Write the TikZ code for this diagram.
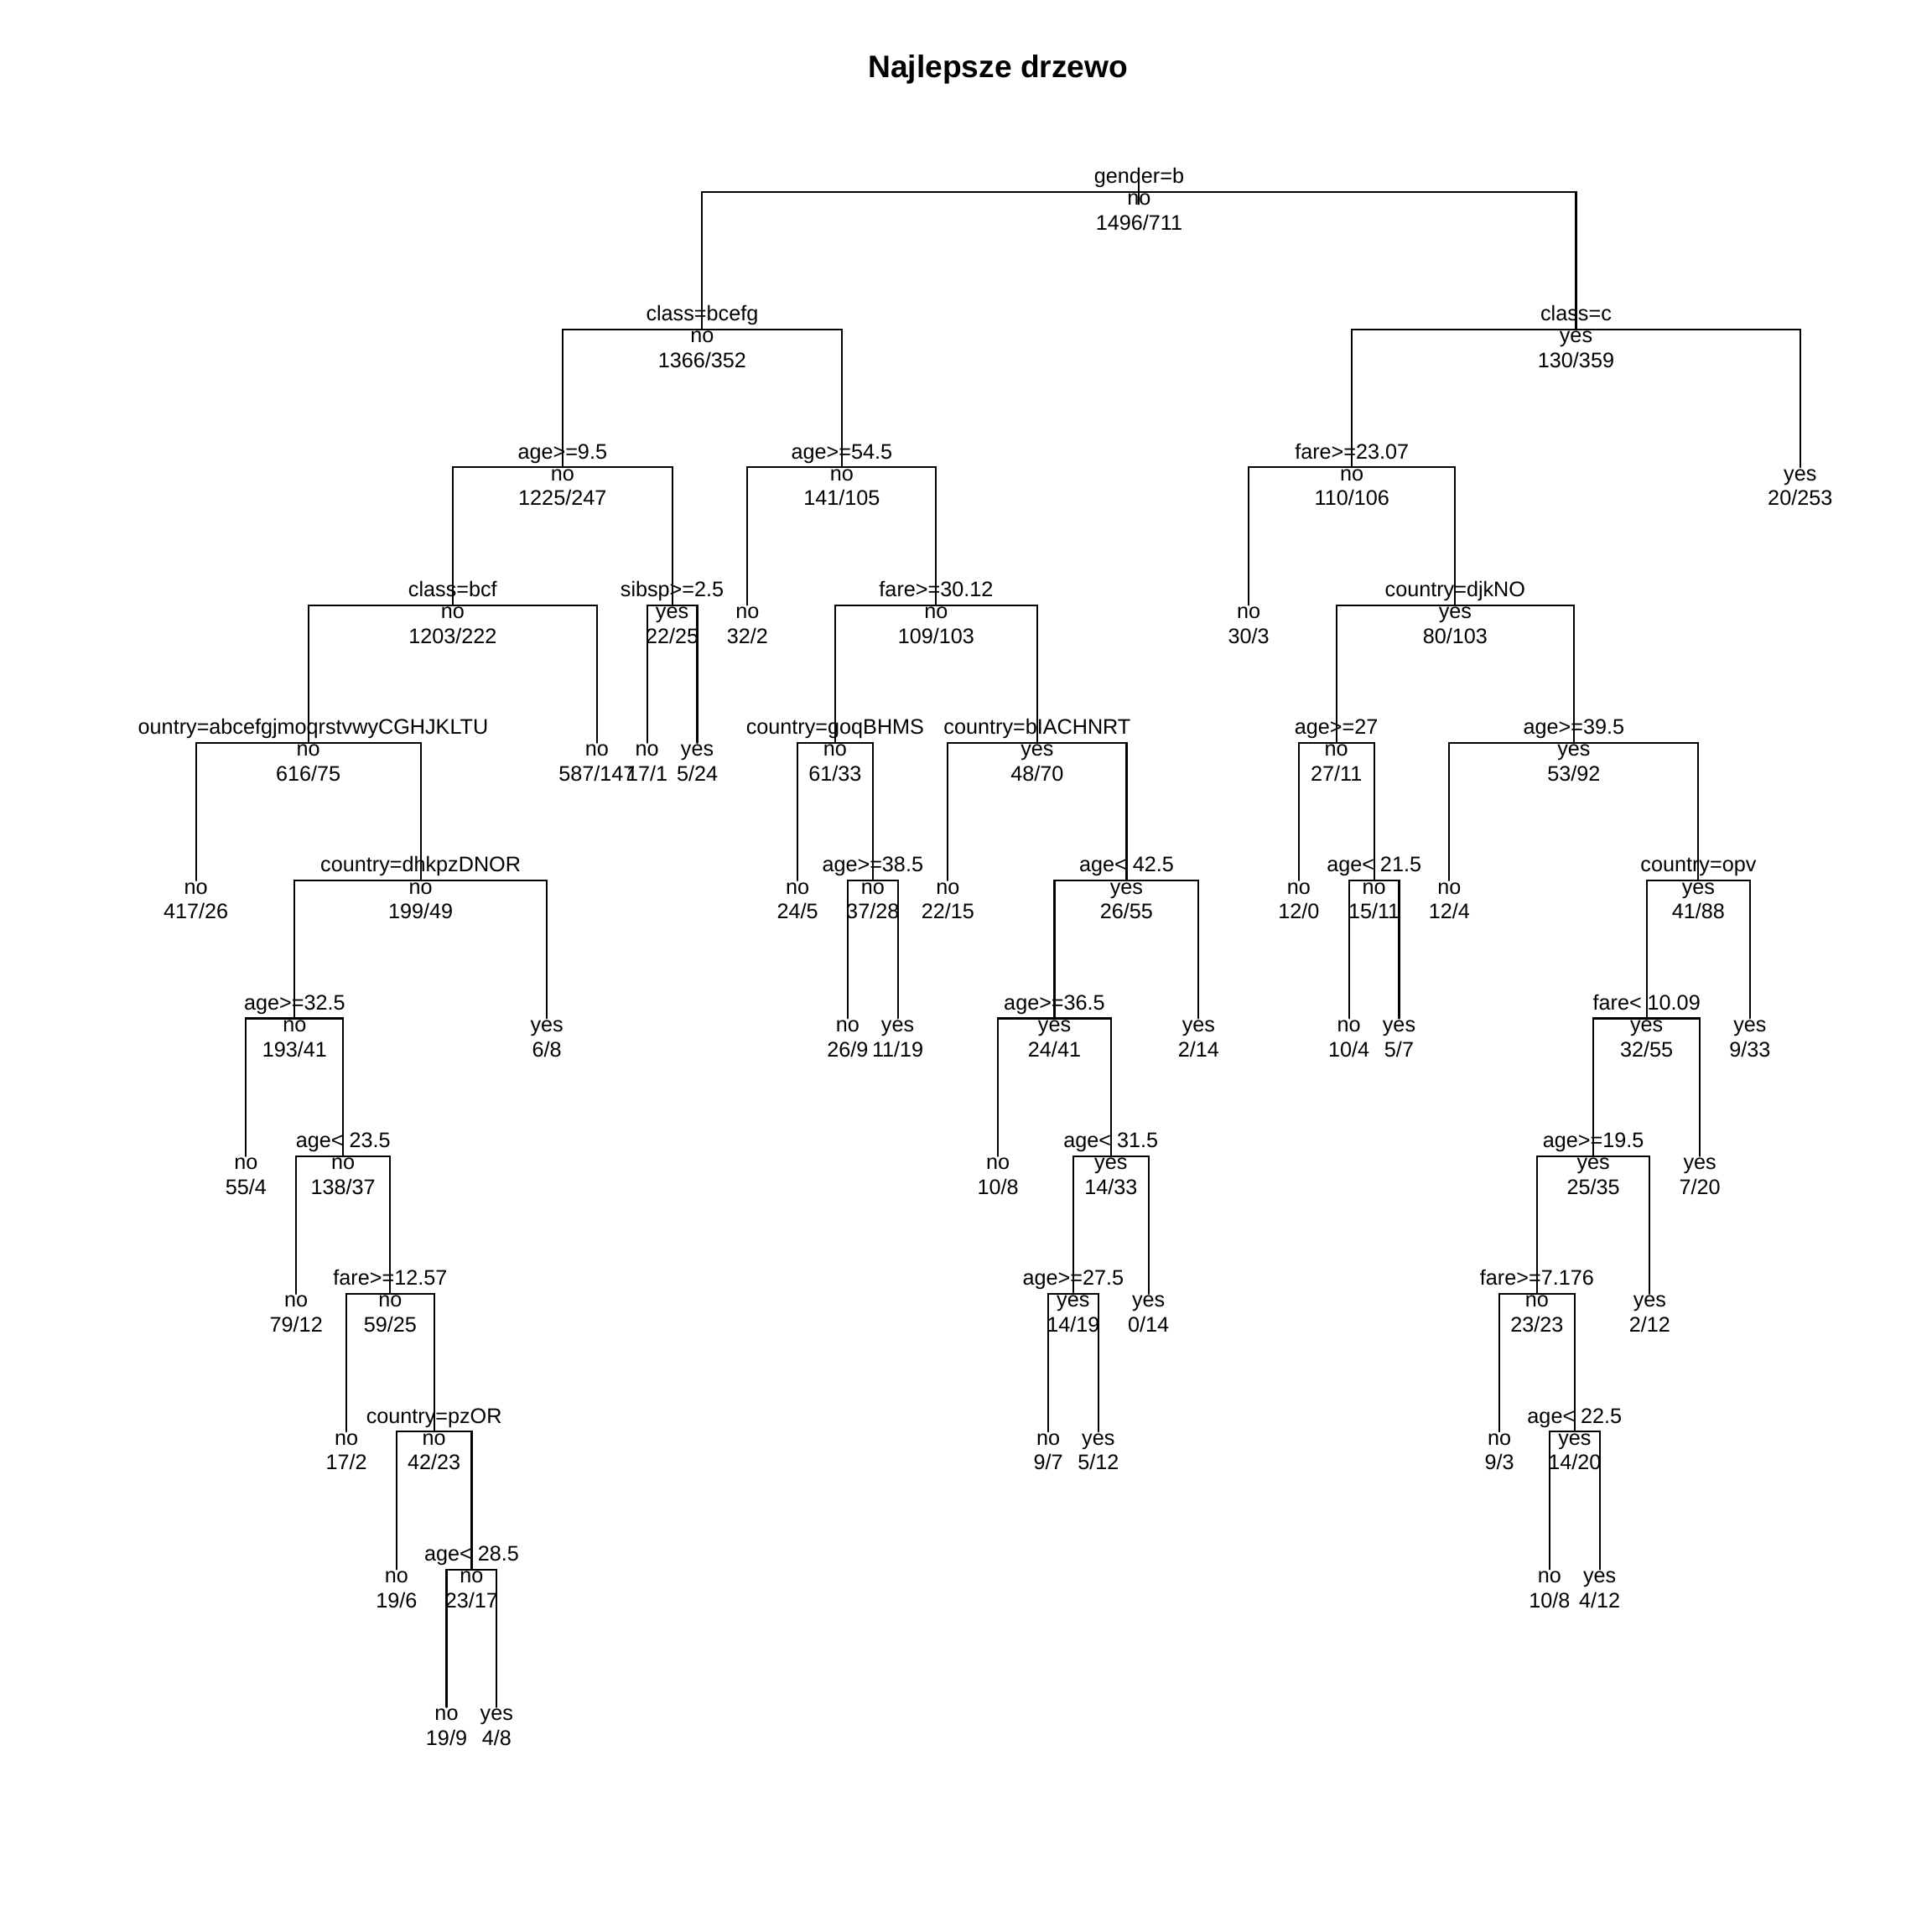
\documentclass[tikz,border=0pt]{standalone}
\usepackage{fontspec}
\setmainfont{Liberation Sans}
\usetikzlibrary{calc}

\begin{document}
\begin{tikzpicture}[x=0.1mm,y=-0.1mm,line width=0.4pt,line cap=round,
		every node/.style={anchor=base,inner sep=0pt,font=\fontsize{4.88}{6}\selectfont},
		titlelbl/.style={font=\fontsize{7.2}{8.6}\selectfont\bfseries}]
		\useasboundingbox (0,0) rectangle (1568,1568);
		
		\node[titlelbl] (title) at (810,63) {Najlepsze drzewo};
		
		% tree points, numbered like rpart
		\coordinate (n1) at (924.5,155.7);
		\coordinate (n2) at (569.9,267.5);
		\coordinate (n3) at (1279.1,267.5);
		\coordinate (n4) at (456.5,379.3);
		\coordinate (n5) at (683.2,379.3);
		\coordinate (n6) at (1097.2,379.3);
		\coordinate (n7) at (1461,379.3);
		\coordinate (n8) at (367.4,491.1);
		\coordinate (n9) at (545.5,491.1);
		\coordinate (n10) at (606.6,491.1);
		\coordinate (n11) at (759.8,491.1);
		\coordinate (n12) at (1013.4,491.1);
		\coordinate (n13) at (1181.0,491.1);
		\coordinate (n16) at (250.2,602.9);
		\coordinate (n17) at (484.5,602.9);
		\coordinate (n18) at (525.2,602.9);
		\coordinate (n19) at (565.9,602.9);
		\coordinate (n22) at (677.8,602.9);
		\coordinate (n23) at (841.8,602.9);
		\coordinate (n26) at (1084.6,602.9);
		\coordinate (n27) at (1277.3,602.9);
		\coordinate (n32) at (159,714.7);
		\coordinate (n33) at (341.4,714.7);
		\coordinate (n44) at (647.3,714.7);
		\coordinate (n45) at (708.3,714.7);
		\coordinate (n46) at (769.3,714.7);
		\coordinate (n47) at (914.3,714.7);
		\coordinate (n52) at (1054.1,714.7);
		\coordinate (n53) at (1115.2,714.7);
		\coordinate (n54) at (1176.2,714.7);
		\coordinate (n55) at (1378.4,714.7);
		\coordinate (n66) at (239.1,826.5);
		\coordinate (n67) at (443.8,826.5);
		\coordinate (n90) at (687.9,826.5);
		\coordinate (n91) at (728.6,826.5);
		\coordinate (n94) at (855.8,826.5);
		\coordinate (n95) at (972.8,826.5);
		\coordinate (n106) at (1094.8,826.5);
		\coordinate (n107) at (1135.5,826.5);
		\coordinate (n110) at (1336.4,826.5);
		\coordinate (n111) at (1420.3,826.5);
		\coordinate (n132) at (199.7,938.3);
		\coordinate (n133) at (278.5,938.3);
		\coordinate (n188) at (810,938.3);
		\coordinate (n189) at (901.6,938.3);
		\coordinate (n220) at (1293.2,938.3);
		\coordinate (n221) at (1379.6,938.3);
		\coordinate (n266) at (240.4,1050.1);
		\coordinate (n267) at (316.7,1050.1);
		\coordinate (n378) at (871.0,1050.1);
		\coordinate (n379) at (932.1,1050.1);
		\coordinate (n440) at (1247.4,1050.1);
		\coordinate (n441) at (1338.9,1050.1);
		\coordinate (n534) at (281.1,1161.9);
		\coordinate (n535) at (352.3,1161.9);
		\coordinate (n756) at (850.7,1161.9);
		\coordinate (n757) at (891.4,1161.9);
		\coordinate (n880) at (1216.9,1161.9);
		\coordinate (n881) at (1278.0,1161.9);
		\coordinate (n1070) at (321.8,1273.7);
		\coordinate (n1071) at (382.8,1273.7);
		\coordinate (n1762) at (1257.6,1273.7);
		\coordinate (n1763) at (1298.3,1273.7);
		\coordinate (n2142) at (362.4,1385.5);
		\coordinate (n2143) at (403.1,1385.5);
		
		% branches
		\coordinate (stubtop) at ($(n1)+(0,-8)$);
		\coordinate (stubbot) at ($(n1)+(0,10)$);
		\draw (stubtop)--(stubbot);
		\foreach \p/\l/\r in {1/2/3, 2/4/5, 3/6/7, 4/8/9, 5/10/11, 6/12/13, 8/16/17, 9/18/19,
			11/22/23, 13/26/27, 16/32/33, 22/44/45, 23/46/47, 26/52/53, 27/54/55, 33/66/67,
			45/90/91, 47/94/95, 53/106/107, 55/110/111, 66/132/133, 94/188/189, 110/220/221,
			133/266/267, 189/378/379, 220/440/441, 267/534/535, 378/756/757, 440/880/881,
			535/1070/1071, 881/1762/1763, 1071/2142/2143}
		\draw (n\l) |- (n\p) -| (n\r);
		
		% split labels
		\foreach \i/\lab in {1/gender=b, 2/class=bcefg, 3/class=c, 4/age>=9.5, 5/age>=54.5,
			6/fare>=23.07, 8/class=bcf, 9/sibsp>=2.5, 11/fare>=30.12, 13/country=djkNO,
			22/country=goqBHMS, 23/country=bIACHNRT, 26/age>=27, 27/age>=39.5,
			33/country=dhkpzDNOR, 45/age>=38.5, 47/age< 42.5, 53/age< 21.5, 55/country=opv,
			66/age>=32.5, 94/age>=36.5, 110/fare< 10.09, 133/age< 23.5, 189/age< 31.5,
			220/age>=19.5, 267/fare>=12.57, 378/age>=27.5, 440/fare>=7.176, 535/country=pzOR,
			881/age< 22.5, 1071/age< 28.5}
		\node (s\i) at ($(n\i)+(0,-7)$) {\lab};
		\node (s16) at ($(n16)+(4,-7)$) {ountry=abcefgjmoqrstvwyCGHJKLTU};
		
		% class and counts
		\foreach \i/\cl/\k in {1/no/{1496/711}, 2/no/{1366/352}, 3/yes/{130/359},
			4/no/{1225/247}, 5/no/{141/105}, 6/no/{110/106}, 7/yes/{20/253},
			8/no/{1203/222}, 9/yes/{22/25}, 10/no/{32/2}, 11/no/{109/103}, 12/no/{30/3},
			13/yes/{80/103}, 16/no/{616/75}, 17/no/{587/147}, 18/no/{17/1}, 19/yes/{5/24},
			22/no/{61/33}, 23/yes/{48/70}, 26/no/{27/11}, 27/yes/{53/92}, 32/no/{417/26},
			33/no/{199/49}, 44/no/{24/5}, 45/no/{37/28}, 46/no/{22/15}, 47/yes/{26/55},
			52/no/{12/0}, 53/no/{15/11}, 54/no/{12/4}, 55/yes/{41/88}, 66/no/{193/41},
			67/yes/{6/8}, 90/no/{26/9}, 91/yes/{11/19}, 94/yes/{24/41}, 95/yes/{2/14},
			106/no/{10/4}, 107/yes/{5/7}, 110/yes/{32/55}, 111/yes/{9/33}, 132/no/{55/4},
			133/no/{138/37}, 188/no/{10/8}, 189/yes/{14/33}, 220/yes/{25/35}, 221/yes/{7/20},
			266/no/{79/12}, 267/no/{59/25}, 378/yes/{14/19}, 379/yes/{0/14}, 440/no/{23/23},
			441/yes/{2/12}, 534/no/{17/2}, 535/no/{42/23}, 756/no/{9/7}, 757/yes/{5/12},
			880/no/{9/3}, 881/yes/{14/20}, 1070/no/{19/6}, 1071/no/{23/17}, 1762/no/{10/8},
			1763/yes/{4/12}, 2142/no/{19/9}, 2143/yes/{4/8}}
		{
			\node (c\i) at ($(n\i)+(0,10.8)$) {\cl};
			\node (k\i) at ($(n\i)+(0,31)$) {\k};
		}
	\end{tikzpicture}
\end{document}
